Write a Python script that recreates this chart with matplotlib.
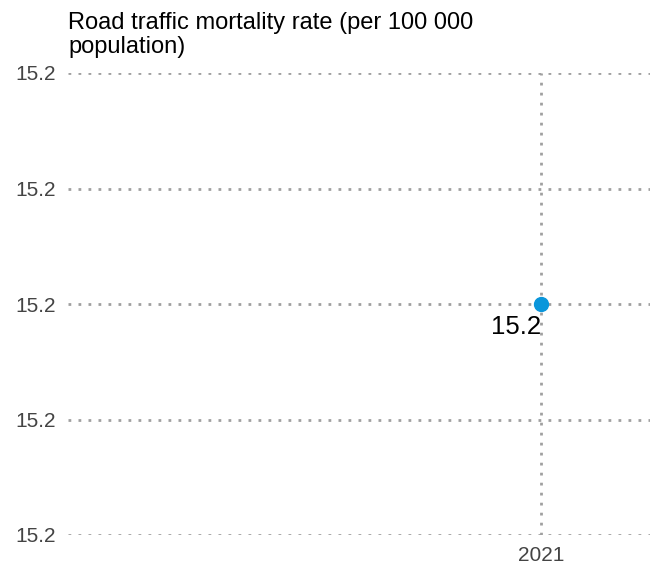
import matplotlib
matplotlib.use("Agg")
import matplotlib.pyplot as plt
from matplotlib.ticker import FormatStrFormatter

plt.rcParams['font.family'] = ['Liberation Sans', 'DejaVu Sans']

# data
years = [2021]
values = [15.2]
y_ticks = [15.18, 15.19, 15.20, 15.21, 15.22]
title_lines = ["Road traffic mortality rate (per 100 000", "population)"]

W, H = 654, 564
fig = plt.figure(figsize=(W / 100, H / 100), dpi=100)
ax = fig.add_axes([68 / W, 1 - 535 / H, (650 - 68) / W, (535 - 73) / H])

grid_col = '#a0a0a0'
dots = (0, (1, 2.6))

ax.set_ylim(y_ticks[0], y_ticks[-1])
ax.set_yticks(y_ticks)
ax.yaxis.set_major_formatter(FormatStrFormatter('%.1f'))
ax.set_xlim(2021 - 0.8127, 2021 + 0.1873)
ax.set_xticks(years)
ax.set_xticklabels([str(y) for y in years])

for yt in y_ticks:
    ax.axhline(yt, color=grid_col, lw=2, ls=dots, zorder=1)
for yr in years:
    ax.axvline(yr, color=grid_col, lw=2, ls=dots, zorder=1)

ax.plot(years, values, 'o', color='#0a96db', ms=10, zorder=3, clip_on=False)
for x, v in zip(years, values):
    ax.annotate(f"{v:.1f}", (x, v), xytext=(0, -8), textcoords='offset points',
                ha='right', va='top', fontsize=18.5, color='black')

for s in ax.spines.values():
    s.set_visible(False)
ax.tick_params(length=0, labelsize=15, labelcolor='#444444')
ax.tick_params(axis='y', pad=9)
ax.tick_params(axis='x', pad=8)

# title, two lines
for i, line in enumerate(title_lines):
    fig.text(68 / W, 1 - (29 + 24 * i) / H, line, ha='left', va='baseline',
             fontsize=17, color='black')

fig.savefig('out.png', dpi=100, facecolor='white')
